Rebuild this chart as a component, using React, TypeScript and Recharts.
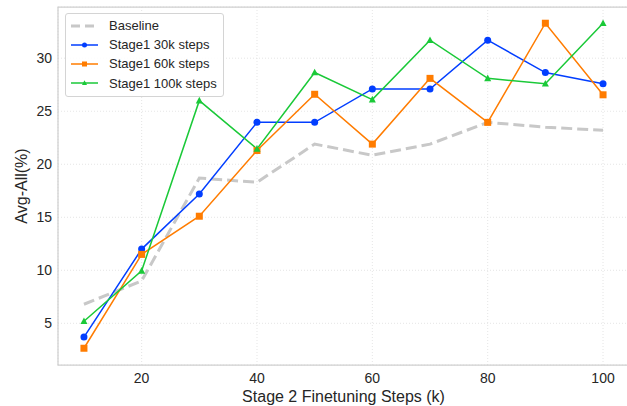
import React from "react";
import {
  CartesianGrid,
  Legend,
  Line,
  LineChart,
  ReferenceArea,
  XAxis,
  YAxis,
} from "recharts";

const steps = [10, 20, 30, 40, 50, 60, 70, 80, 90, 100];
const baseline = [6.8, 9.0, 18.7, 18.3, 21.9, 20.85, 21.9, 23.95, 23.5, 23.2];
const stage1_30k = [3.7, 12.0, 17.2, 23.95, 23.95, 27.1, 27.1, 31.7, 28.65, 27.6];
const stage1_60k = [2.65, 11.5, 15.1, 21.3, 26.6, 21.9, 28.1, 23.95, 33.3, 26.55];
const stage1_100k = [5.2, 9.95, 26.0, 21.45, 28.65, 26.1, 31.7, 28.1, 27.6, 33.3];

const xTicks = [20, 40, 60, 80, 100];
const yTicks = [5, 10, 15, 20, 25, 30];
const xDomain = [5.5, 104.5];
const yDomain = [1.07, 34.83];

const FONT = '"Liberation Sans", Arial, sans-serif';
const TEXT = "#262626";

const data = steps.map((s, i) => ({
  step: s,
  baseline: baseline[i],
  s30: stage1_30k[i],
  s60: stage1_60k[i],
  s100: stage1_100k[i],
}));

type Marker = "none" | "circle" | "square" | "triangle";

const series: { key: string; name: string; color: string; marker: Marker }[] = [
  { key: "baseline", name: "Baseline", color: "#c8c8c8", marker: "none" },
  { key: "s30", name: "Stage1 30k steps", color: "#023eff", marker: "circle" },
  { key: "s60", name: "Stage1 60k steps", color: "#ff7c00", marker: "square" },
  { key: "s100", name: "Stage1 100k steps", color: "#1ac938", marker: "triangle" },
];

function markerShape(marker: Marker, cx: number, cy: number, color: string, size: number, key?: string) {
  if (marker === "circle") return <circle key={key} cx={cx} cy={cy} r={size / 2} fill={color} />;
  if (marker === "square")
    return <rect key={key} x={cx - size / 2} y={cy - size / 2} width={size} height={size} fill={color} />;
  if (marker === "triangle") {
    const h = size * 0.9;
    return (
      <polygon
        key={key}
        points={`${cx},${cy - h * 0.6} ${cx - size / 2},${cy + h * 0.45} ${cx + size / 2},${cy + h * 0.45}`}
        fill={color}
      />
    );
  }
  return <g key={key} />;
}

const LegendBox = () => (
  <div
    style={{
      border: "1px solid #d4d4d4",
      borderRadius: 3,
      background: "rgba(255,255,255,0.85)",
      padding: "2px 6px 3px 5px",
      fontFamily: FONT,
      fontSize: 13,
      color: TEXT,
    }}
  >
    {series.map((s) => (
      <div key={s.key} style={{ display: "flex", alignItems: "center", height: 19.2 }}>
        <svg width={27} height={10} style={{ marginRight: 11 }}>
          <line
            x1={0}
            x2={27}
            y1={5}
            y2={5}
            stroke={s.color}
            strokeWidth={s.marker === "none" ? 3 : 1.5}
            strokeDasharray={s.marker === "none" ? "9 5" : undefined}
          />
          {markerShape(s.marker, 13.5, 5, s.color, 5)}
        </svg>
        <span style={{ whiteSpace: "nowrap" }}>{s.name}</span>
      </div>
    ))}
  </div>
);

const App = () => {
  return (
    <div style={{ position: "absolute", left: 0, top: 0, width: 627, height: 406, overflow: "hidden", background: "#fff" }}>
      <LineChart width={629} height={406} data={data} margin={{ top: 7, right: 0, bottom: 0, left: 0 }}>
        <CartesianGrid stroke="#dedede" strokeWidth={0.8} strokeDasharray="1 2" />
        <ReferenceArea
          x1={xDomain[0]}
          x2={xDomain[1]}
          y1={yDomain[0]}
          y2={yDomain[1]}
          fill="none"
          stroke="#d0d0d0"
          strokeWidth={1.25}
          ifOverflow="visible"
        />
        <XAxis
          dataKey="step"
          type="number"
          domain={xDomain}
          ticks={xTicks}
          allowDataOverflow
          height={41}
          axisLine={false}
          tickLine={false}
          tick={{ fontSize: 14, fill: TEXT, fontFamily: FONT }}
          label={{
            value: "Stage 2 Finetuning Steps (k)",
            position: "insideBottom",
            offset: 4,
            style: { fontSize: 16, fill: TEXT, fontFamily: FONT },
          }}
        />
        <YAxis
          type="number"
          domain={yDomain}
          ticks={yTicks}
          allowDataOverflow
          width={58}
          axisLine={false}
          tickLine={false}
          tickSize={4}
          tickMargin={2}
          tick={{ fontSize: 14, fill: TEXT, fontFamily: FONT }}
          label={{
            content: () => (
              <text
                x={21}
                y={186}
                transform="rotate(-90 21 186)"
                textAnchor="middle"
                dominantBaseline="central"
                style={{ fontSize: 16, fill: TEXT, fontFamily: FONT }}
              >
                Avg-All(%)
              </text>
            ),
          }}
        />
        <Legend
          layout="vertical"
          align="center"
          verticalAlign="middle"
          content={<LegendBox />}
          wrapperStyle={{ top: 13, left: 65, width: "auto" }}
        />
        {series.map((s) =>
          s.marker === "none" ? (
            <Line
              key={s.key}
              dataKey={s.key}
              name={s.name}
              type="linear"
              stroke={s.color}
              strokeWidth={3}
              strokeDasharray="11 5"
              dot={false}
              activeDot={false}
              isAnimationActive={false}
            />
          ) : (
            <Line
              key={s.key}
              dataKey={s.key}
              name={s.name}
              type="linear"
              stroke={s.color}
              strokeWidth={1.5}
              dot={(p: any) => markerShape(s.marker, p.cx, p.cy, s.color, 7, `${s.key}-${p.index}`)}
              activeDot={false}
              isAnimationActive={false}
            />
          )
        )}
      </LineChart>
    </div>
  );
};

export default App;
